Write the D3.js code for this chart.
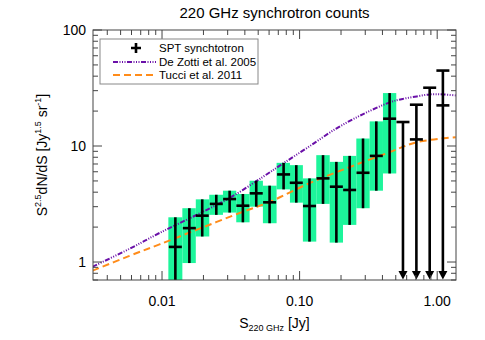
<!DOCTYPE html>
<html>
<head>
<meta charset="utf-8">
<script src="https://cdn.jsdelivr.net/npm/d3@7"></script>
<style>
  body { margin: 0; background: #fff; }
  svg { display: block; }
  text { font-family: "Liberation Sans", Arial, Helvetica, sans-serif; fill: #000; }
</style>
</head>
<body>
<svg></svg>
<script>
// SPT synchrotron counts, measured bins
const fluxS = [0.0125, 0.0158, 0.0196, 0.0248, 0.031, 0.0387, 0.0484, 0.0605, 0.0765,
  0.0946, 0.118, 0.148, 0.185, 0.231, 0.289, 0.361, 0.451];
const countVal = [1.35, 1.96, 2.51, 3.17, 3.49, 3.06, 3.91, 3.27, 5.69,
  4.82, 3.04, 5.26, 4.46, 4.18, 5.88, 8.22, 17.2];
const countLow = [0.5, 0.98, 1.66, 2.55, 2.67, 2.2, 3.0, 2.16, 4.23,
  3.25, 1.5, 3.17, 1.47, 2.09, 2.91, 4.12, 5.8];
const countHigh = [2.43, 2.91, 3.47, 3.8, 4.12, 3.86, 5.02, 4.55, 7.16,
  6.84, 5.26, 8.34, 7.3, 8.22, 11.6, 16.3, 28.6];

// upper limits in the brightest bins
const limitS = [0.564, 0.706, 0.882, 1.10];
const limitTop = [16.1, 22.7, 31.8, 44.7];
const limitMid = [null, 11.4, null, 22.4];

// model curves
const dezottiS = [0.003124, 0.0058, 0.00959, 0.01782, 0.03097, 0.05382, 0.0765, 0.1182,
  0.1858, 0.2872, 0.4514, 0.5611, 0.7094, 0.8821, 1.096, 1.363];
const dezottiV = [0.911, 1.30, 1.78, 2.547, 3.564, 5.397, 7.117, 9.96,
  14.22, 18.75, 23.77, 25.47, 26.76, 27.84, 27.84, 27.3];
const tucciS = [0.003124, 0.0058, 0.00959, 0.01874, 0.03849, 0.06049, 0.1182, 0.2311,
  0.4514, 0.7094, 1.363];
const tucciV = [0.842, 1.13, 1.42, 1.94, 2.703, 3.293, 4.794, 6.577,
  8.849, 10.78, 11.9];

const xTicks = [0.01, 0.1, 1];
const xTickLabels = ["0.01", "0.10", "1.00"];
const yTicks = [1, 10, 100];
const yTickLabels = ["1", "10", "100"];

const legendItems = ["SPT synchtotron", "De Zotti et al. 2005", "Tucci et al. 2011"];

const W = 485, H = 340;
const pLeft = 93, pRight = 456, pTop = 30, pBottom = 280;
const GREEN = "#1df59b", PURPLE = "#6a10a8", ORANGE = "#ff8c1a";

const svg = d3.select("svg").attr("width", W).attr("height", H);

const x = d3.scaleLog().domain([0.00315, 1.37]).range([pLeft, pRight]);
const y = d3.scaleLog().domain([0.7, 100]).range([pBottom, pTop]);

svg.append("defs").append("clipPath").attr("id", "plotclip")
  .append("rect").attr("x", pLeft).attr("y", pTop)
  .attr("width", pRight - pLeft).attr("height", pBottom - pTop);

const plot = svg.append("g").attr("clip-path", "url(#plotclip)");

// bin edges from geometric midpoints
function binEdges(i) {
  const lo = i > 0 ? Math.sqrt(fluxS[i - 1] * fluxS[i]) : fluxS[0] / Math.sqrt(fluxS[1] / fluxS[0]);
  const hi = i < fluxS.length - 1 ? Math.sqrt(fluxS[i] * fluxS[i + 1]) : fluxS[i] * Math.sqrt(fluxS[i] / fluxS[i - 1]);
  return [lo, hi];
}

plot.selectAll(".box")
  .data(fluxS)
  .enter().append("rect")
  .attr("class", "box")
  .attr("x", (d, i) => x(binEdges(i)[0]))
  .attr("width", (d, i) => x(binEdges(i)[1]) - x(binEdges(i)[0]))
  .attr("y", (d, i) => y(countHigh[i]))
  .attr("height", (d, i) => y(countLow[i]) - y(countHigh[i]))
  .attr("fill", GREEN);

// model lines
const line = d3.line().curve(d3.curveCatmullRom.alpha(0.5));
plot.append("path")
  .attr("d", line(dezottiS.map((s, i) => [x(s), y(dezottiV[i])])))
  .attr("fill", "none").attr("stroke", PURPLE).attr("stroke-width", 2)
  .attr("stroke-dasharray", "5,1.5,1,1.5,1,1.5,1,1.5");
plot.append("path")
  .attr("d", line(tucciS.map((s, i) => [x(s), y(tucciV[i])])))
  .attr("fill", "none").attr("stroke", ORANGE).attr("stroke-width", 2)
  .attr("stroke-dasharray", "7,4");

// error bars and crosses
const hw = 6.5;
plot.selectAll(".err")
  .data(fluxS)
  .enter().append("line")
  .attr("x1", d => x(d)).attr("x2", d => x(d))
  .attr("y1", (d, i) => y(countHigh[i])).attr("y2", (d, i) => y(countLow[i]))
  .attr("stroke", "#000").attr("stroke-width", 2.6);
plot.selectAll(".mid")
  .data(fluxS)
  .enter().append("line")
  .attr("x1", d => x(d) - hw).attr("x2", d => x(d) + hw)
  .attr("y1", (d, i) => y(countVal[i])).attr("y2", (d, i) => y(countVal[i]))
  .attr("stroke", "#000").attr("stroke-width", 2.6);

// upper limits with arrows
limitS.forEach((s, i) => {
  const cx = x(s);
  plot.append("line")
    .attr("x1", cx).attr("x2", cx)
    .attr("y1", y(limitTop[i])).attr("y2", pBottom - 6)
    .attr("stroke", "#000").attr("stroke-width", 2.6);
  plot.append("line")
    .attr("x1", cx - hw).attr("x2", cx + hw)
    .attr("y1", y(limitTop[i])).attr("y2", y(limitTop[i]))
    .attr("stroke", "#000").attr("stroke-width", 2.6);
  if (limitMid[i] !== null) {
    plot.append("line")
      .attr("x1", cx - hw).attr("x2", cx + hw)
      .attr("y1", y(limitMid[i])).attr("y2", y(limitMid[i]))
      .attr("stroke", "#000").attr("stroke-width", 2.6);
  }
  plot.append("path")
    .attr("d", `M${cx - 4.5},${pBottom - 9}L${cx + 4.5},${pBottom - 9}L${cx},${pBottom - 0.5}Z`)
    .attr("fill", "#000");
});

// frame and ticks
const axisG = svg.append("g").attr("stroke", "#444").attr("stroke-width", 1);
axisG.append("rect")
  .attr("x", pLeft).attr("y", pTop).attr("width", pRight - pLeft).attr("height", pBottom - pTop)
  .attr("fill", "none");

const xMinor = [], yMinor = [];
for (let e = -3; e <= 0; e++) for (let m = 1; m <= 9; m++) {
  const v = m * Math.pow(10, e);
  if (v >= x.domain()[0] && v <= x.domain()[1]) xMinor.push({ v, major: m === 1 });
}
for (let e = -1; e <= 2; e++) for (let m = 1; m <= 9; m++) {
  const v = m * Math.pow(10, e);
  if (v >= y.domain()[0] && v <= y.domain()[1] * 1.0001) yMinor.push({ v, major: m === 1 });
}
xMinor.forEach(t => {
  const len = t.major ? 9 : 5;
  axisG.append("line").attr("x1", x(t.v)).attr("x2", x(t.v)).attr("y1", pBottom).attr("y2", pBottom - len);
  axisG.append("line").attr("x1", x(t.v)).attr("x2", x(t.v)).attr("y1", pTop).attr("y2", pTop + len);
});
yMinor.forEach(t => {
  const len = t.major ? 9 : 5;
  axisG.append("line").attr("x1", pLeft).attr("x2", pLeft + len).attr("y1", y(t.v)).attr("y2", y(t.v));
  axisG.append("line").attr("x1", pRight).attr("x2", pRight - len).attr("y1", y(t.v)).attr("y2", y(t.v));
});

svg.selectAll(".xlab")
  .data(xTicks)
  .enter().append("text")
  .attr("x", d => x(d)).attr("y", 306)
  .attr("text-anchor", "middle").attr("font-size", 14)
  .text((d, i) => xTickLabels[i]);

svg.selectAll(".ylab")
  .data(yTicks)
  .enter().append("text")
  .attr("x", 86).attr("y", d => y(d) + 5)
  .attr("text-anchor", "end").attr("font-size", 14)
  .text((d, i) => yTickLabels[i]);

// titles
svg.append("text")
  .attr("x", (pLeft + pRight) / 2).attr("y", 18)
  .attr("text-anchor", "middle").attr("font-size", 15)
  .text("220 GHz synchrotron counts");

const xt = svg.append("text")
  .attr("x", (pLeft + pRight) / 2).attr("y", 328)
  .attr("text-anchor", "middle").attr("font-size", 14);
xt.append("tspan").text("S");
xt.append("tspan").attr("font-size", 9).attr("dy", 3).text("220 GHz");
xt.append("tspan").attr("dy", -3).text(" [Jy]");

const yt = svg.append("text")
  .attr("transform", `translate(47,${(pTop + pBottom) / 2}) rotate(-90)`)
  .attr("text-anchor", "middle").attr("font-size", 14);
yt.append("tspan").text("S");
yt.append("tspan").attr("font-size", 9).attr("dy", -6).text("2.5");
yt.append("tspan").attr("dy", 6).text("dN/dS [Jy");
yt.append("tspan").attr("font-size", 9).attr("dy", -6).text("1.5");
yt.append("tspan").attr("dy", 6).text(" sr");
yt.append("tspan").attr("font-size", 9).attr("dy", -6).text("-1");
yt.append("tspan").attr("dy", 6).text("]");

// legend
const lg = svg.append("g");
lg.append("rect")
  .attr("x", 100).attr("y", 39).attr("width", 158).attr("height", 45)
  .attr("fill", "#fff").attr("stroke", "#888").attr("stroke-width", 1);
const rowY = [48, 62, 75];
lg.append("path")
  .attr("d", `M131,${rowY[0]}h10M136,${rowY[0] - 5}v10`)
  .attr("stroke", "#000").attr("stroke-width", 2.6);
lg.append("line").attr("x1", 113).attr("x2", 156).attr("y1", rowY[1]).attr("y2", rowY[1])
  .attr("stroke", PURPLE).attr("stroke-width", 2)
  .attr("stroke-dasharray", "5,1.5,1,1.5,1,1.5,1,1.5");
lg.append("line").attr("x1", 113).attr("x2", 156).attr("y1", rowY[2]).attr("y2", rowY[2])
  .attr("stroke", ORANGE).attr("stroke-width", 2)
  .attr("stroke-dasharray", "7,4");
lg.selectAll(".lt")
  .data(legendItems)
  .enter().append("text")
  .attr("x", 159).attr("y", (d, i) => rowY[i] + 4)
  .attr("font-size", 11.5)
  .text(d => d);
</script>
</body>
</html>
